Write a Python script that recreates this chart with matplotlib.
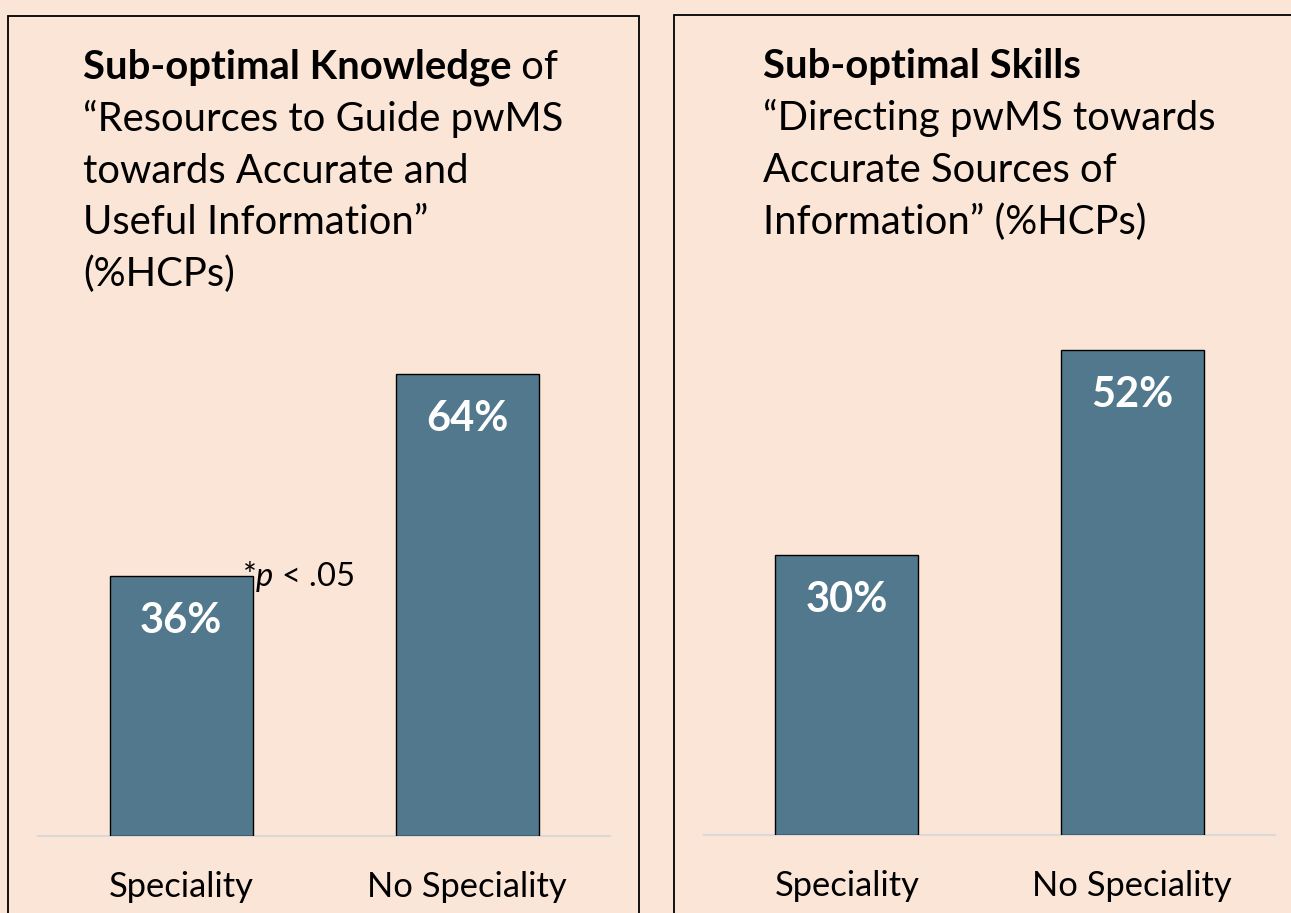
import matplotlib
matplotlib.use("Agg")
import matplotlib.pyplot as plt
from matplotlib.patches import Rectangle

plt.rcParams['font.family'] = ['Lato', 'DejaVu Sans']
plt.rcParams['mathtext.fontset'] = 'custom'
plt.rcParams['mathtext.it'] = 'Lato:italic'
plt.rcParams['mathtext.rm'] = 'Lato'

# ---- data ----
categories = ["Speciality", "No Speciality"]
knowledge_values = [36, 64]
skills_values = [30, 52]
knowledge_title_bold = "Sub-optimal Knowledge"
knowledge_title_rest = [" of", "\u201cResources to Guide pwMS", "towards Accurate and",
                        "Useful Information\u201d", "(%HCPs)"]
skills_title_bold = "Sub-optimal Skills"
skills_title_rest = ["\u201cDirecting pwMS towards", "Accurate Sources of",
                     "Information\u201d (%HCPs)"]

BG = "#FBE5D6"
BAR = "#51788C"
W, H = 1291, 913

fig = plt.figure(figsize=(W / 100, H / 100), dpi=100)
fig.patch.set_facecolor(BG)

def fx(px):
    return px / W

def fy(py):
    return 1 - py / H

# panel boxes
fig.patches.append(Rectangle((fx(8), fy(930)), fx(639) - fx(8), fy(16) - fy(930),
                             transform=fig.transFigure, fill=False, ec="black", lw=1.3))
fig.patches.append(Rectangle((fx(674), fy(930)), fx(1320) - fx(674), fy(15) - fy(930),
                             transform=fig.transFigure, fill=False, ec="black", lw=1.3))

def make_bar_axes(x0, x1, baseline, pxper, values):
    top_px = 300
    ax = fig.add_axes([fx(x0), fy(baseline), fx(x1) - fx(x0), (baseline - top_px) / H])
    ax.set_facecolor("none")
    ymax = (baseline - top_px) / pxper
    ax.bar(range(len(values)), values, width=0.5, color=BAR,
           edgecolor="black", linewidth=1.0, zorder=3)
    ax.set_xlim(-0.5, len(values) - 0.5)
    ax.set_ylim(0, ymax)
    for s in ["top", "right", "left"]:
        ax.spines[s].set_visible(False)
    ax.spines["bottom"].set_color("#D9D9D9")
    ax.spines["bottom"].set_linewidth(1.5)
    ax.set_yticks([])
    ax.set_xticks(range(len(values)))
    ax.set_xticklabels(categories, fontsize=24.8)
    ax.tick_params(axis="x", length=0, pad=25)
    for i, v in enumerate(values):
        ax.annotate(f"{v}%", (i, v), xytext=(0, -45), textcoords="offset pixels",
                    ha="center", va="center", color="white", fontsize=30,
                    fontweight="bold", zorder=5)
    return ax

ax1 = make_bar_axes(38, 610, 836, 7.22, knowledge_values)
ax2 = make_bar_axes(704, 1275, 835, 9.32, skills_values)

TS = 28.8
fig.canvas.draw()
renderer = fig.canvas.get_renderer()

# left title
t = fig.text(fx(83), fy(79), knowledge_title_bold, fontsize=TS, fontweight="bold", va="baseline")
bb = t.get_window_extent(renderer)
fig.text(bb.x1 / W, fy(79), knowledge_title_rest[0], fontsize=TS, va="baseline")
for i, line in enumerate(knowledge_title_rest[1:]):
    fig.text(fx(83), fy(131 + 51.7 * i), line, fontsize=TS, va="baseline")

# right title
fig.text(fx(763), fy(78), skills_title_bold, fontsize=TS, fontweight="bold", va="baseline")
for i, line in enumerate(skills_title_rest):
    fig.text(fx(763), fy(130 + 52 * i), line, fontsize=TS, va="baseline")

# significance note
ax1.text(0.214, 36, r"$\mathit{*p}$ < .05", fontsize=23.5, ha="left", va="center",
         transform=ax1.transData, zorder=6)

fig.savefig("out.png", dpi=100, facecolor=BG)
